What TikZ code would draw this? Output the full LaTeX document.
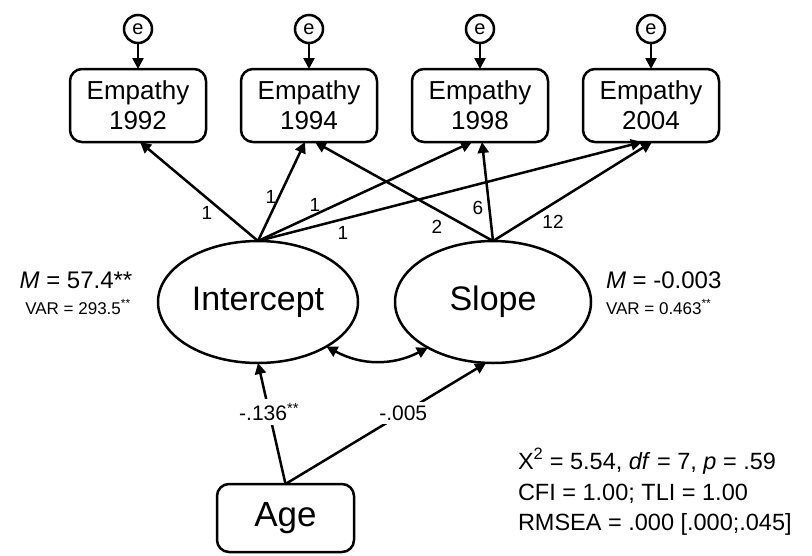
\documentclass[tikz,border=0pt]{standalone}
\usepackage{fontspec}
\setmainfont{Liberation Sans}
\usetikzlibrary{arrows.meta,shapes.geometric}
\newcommand\sstar{\textsuperscript{**}}
\begin{document}
\begin{tikzpicture}[x=1pt,y=-1pt,
  every node/.style={inner sep=0pt, outer sep=0pt},
  ln/.style={line width=2.5pt},
  tip/.tip={Triangle[length=11pt,width=11pt]},
  arr/.style={ln, -tip},
  darr/.style={ln, tip-tip},
  errc/.style={circle, draw, line width=2.5pt, minimum size=28pt, font=\fontsize{20}{20}\selectfont},
  obs/.style={rectangle, rounded corners=12pt, draw, line width=2.5pt, minimum width=136pt, minimum height=73pt, align=center, font=\fontsize{26}{30}\selectfont},
  lat/.style={ellipse, draw, line width=2.5pt, minimum height=122pt, font=\fontsize{34}{34}\selectfont},
  plab/.style={font=\fontsize{19}{19}\selectfont},
  wlab/.style={fill=white, inner sep=4pt, font=\fontsize{21}{21}\selectfont},
  mtxt/.style={font=\fontsize{24}{24}\selectfont},
  vtxt/.style={font=\fontsize{17}{17}\selectfont},
  fit/.style={anchor=base west, font=\fontsize{23.5}{23.5}\selectfont}
]
\useasboundingbox (0,0) rectangle (812,555);

% error terms
\node[errc] (e1) at (138,29) {e};
\node[errc] (e2) at (309,29) {e};
\node[errc] (e3) at (480,29) {e};
\node[errc] (e4) at (651,29) {e};

% observed
\node[obs] (b1) at (138,105.5) {Empathy\\1992};
\node[obs] (b2) at (309,105.5) {Empathy\\1994};
\node[obs] (b3) at (480,105.5) {Empathy\\1998};
\node[obs] (b4) at (651,105.5) {Empathy\\2004};

% latent
\node[lat, minimum width=200pt] (int) at (258,302) {Intercept};
\node[lat, minimum width=196pt] (slo) at (493,302) {Slope};

% age
\node[rectangle, rounded corners=12pt, draw, line width=2.5pt, minimum width=137pt, minimum height=68pt, font=\fontsize{35}{35}\selectfont] (age) at (285.5,518) {Age};

% error arrows
\foreach \i in {1,2,3,4} \draw[arr] (e\i.south) -- (b\i.north);

% loadings
\draw[arr] (int.north) -- ([xshift=2pt]b1.south);
\draw[arr] (int.north) -- ([xshift=-4pt]b2.south);
\draw[arr] (int.north) -- ([xshift=-8pt]b3.south);
\draw[arr] (int.north) -- ([xshift=-9pt]b4.south);
\draw[arr] (slo.north) -- ([xshift=6pt]b2.south);
\draw[arr] (slo.north) -- ([xshift=2pt]b3.south);
\draw[arr] (slo.north) -- ([xshift=1pt]b4.south);

% loading labels
\node[plab] (l1) at (207,213) {1};
\node[plab] (l2) at (271,197) {1};
\node[plab] (l3) at (315,205) {1};
\node[plab] (l4) at (343,233) {1};
\node[plab] (l5) at (437,227) {2};
\node[plab] (l6) at (478,208) {6};
\node[plab] (l7) at (553,222) {12};

% covariance
\draw[darr] (int.-33) to[bend right=28] (slo.-145);

% age effects
\draw[arr] (age.north) -- node[wlab, pos=0.595] (a1) {-.136\sstar} (int.south);
\draw[arr] (age.north) -- node[wlab, pos=0.587] (a2) {-.005} ([xshift=-7pt]slo.south);

% means / variances
\node[mtxt] (mi) at (76,280) {\textit{M} = 57.4**};
\node[vtxt] (vi) at (78,307) {VAR = 293.5\sstar};
\node[mtxt, anchor=west] (ms) at (606,280) {\textit{M} = -0.003};
\node[vtxt, anchor=west] (vs) at (606,307) {VAR = 0.463\sstar};

% fit
\node[fit] (f1) at (518,469) {X\textsuperscript{2} = 5.54, \textit{df} = 7, \textit{p} = .59};
\node[fit] (f2) at (518,500) {CFI = 1.00; TLI = 1.00};
\node[fit] (f3) at (518,530) {RMSEA = .000 [.000;.045]};
\end{tikzpicture}
\end{document}
